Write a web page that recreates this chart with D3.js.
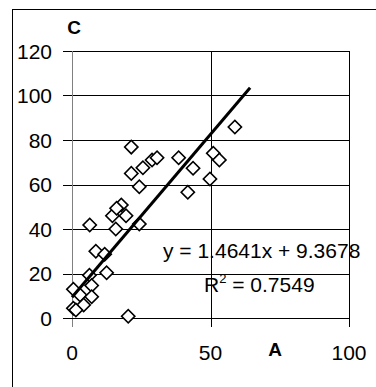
<!DOCTYPE html>
<html>
<head>
<meta charset="utf-8">
<script src="https://cdn.jsdelivr.net/npm/d3@7"></script>
<style>
  body { margin: 0; background: #fff; }
  svg { display: block; font-family: "Liberation Sans", Arial, sans-serif; }
</style>
</head>
<body>
<svg id="chart" width="376" height="387"></svg>
<script>
// values
const aValues = [58.8, 21.4, 28.9, 30.7, 25.6, 21.4, 24.3, 38.5, 43.7, 41.8, 51.0, 53.2, 49.8,
  6.4, 14.6, 17.8, 16.1, 19.5, 15.8, 24.3, 8.6, 11.8, 12.5, 6.3, 7.1, 0.5, 2.9, 7.1, 4.2, 0.5, 1.4, 20.3];
const cValues = [85.8, 76.8, 71.0, 72.0, 67.5, 65.0, 59.0, 72.0, 67.3, 56.5, 74.0, 71.0, 62.5,
  41.8, 46.0, 50.8, 49.3, 46.0, 40.0, 42.2, 30.0, 28.7, 20.3, 19.2, 14.6, 12.9, 10.3, 9.6, 5.8, 4.4, 3.6, 0.8];
const xTicks = [0, 50, 100];
const yTicks = [0, 20, 40, 60, 80, 100, 120];
const slope = 1.4641, intercept = 9.3678;
const trendRange = [0, 64.3];
const eqLabel = "y = 1.4641x + 9.3678";
const r2Value = "0.7549";

const svg = d3.select("#chart");

const x = d3.scaleLinear().domain([0, 100]).range([72, 349]);
const y = d3.scaleLinear().domain([0, 120]).range([318, 51]);

// outer frame (runs past the right and bottom edges)
svg.append("rect")
    .attr("x", 12.5).attr("y", 9.5)
    .attr("width", 420).attr("height", 420)
    .attr("fill", "none").attr("stroke", "#000");

// horizontal grid + y ticks
svg.append("g")
  .selectAll("line")
  .data(yTicks.filter(function (d) { return d > 0 }))
  .join("line")
    .attr("x1", 63).attr("x2", x(100))
    .attr("y1", function (d) { return Math.round(y(d)) + 0.5 })
    .attr("y2", function (d) { return Math.round(y(d)) + 0.5 })
    .attr("stroke", "#000");

// vertical grid + x ticks
svg.append("g")
  .selectAll("line")
  .data(xTicks.filter(function (d) { return d > 0 }))
  .join("line")
    .attr("x1", function (d) { return Math.round(x(d)) + 0.5 })
    .attr("x2", function (d) { return Math.round(x(d)) + 0.5 })
    .attr("y1", y(120)).attr("y2", 327)
    .attr("stroke", "#000");

// axes
svg.append("line")
    .attr("x1", Math.round(x(0)) + 0.5).attr("x2", Math.round(x(0)) + 0.5)
    .attr("y1", y(120)).attr("y2", 327)
    .attr("stroke", "#808080");
svg.append("line")
    .attr("x1", 63).attr("x2", x(100))
    .attr("y1", Math.round(y(0)) + 0.5).attr("y2", Math.round(y(0)) + 0.5)
    .attr("stroke", "#000");

// tick labels
svg.append("g")
    .attr("font-size", 21)
    .attr("text-anchor", "end")
  .selectAll("text")
  .data(yTicks)
  .join("text")
    .attr("x", 52)
    .attr("y", function (d) { return y(d) })
    .attr("dy", "0.36em")
    .text(function (d) { return d });

svg.append("g")
    .attr("font-size", 21)
    .attr("text-anchor", "middle")
  .selectAll("text")
  .data(xTicks)
  .join("text")
    .attr("x", function (d) { return x(d) })
    .attr("y", 360)
    .text(function (d) { return d });

// axis titles
svg.append("text")
    .attr("x", 74).attr("y", 34)
    .attr("text-anchor", "middle")
    .attr("font-size", 19).attr("font-weight", "bold")
    .text("C");
svg.append("text")
    .attr("x", 275).attr("y", 356)
    .attr("text-anchor", "middle")
    .attr("font-size", 19).attr("font-weight", "bold")
    .text("A");

// points
const diamond = d3.symbol().type(d3.symbolSquare).size(88);
svg.append("g")
  .selectAll("path")
  .data(aValues.map(function (a, i) { return [a, cValues[i]] }))
  .join("path")
    .attr("d", diamond)
    .attr("transform", function (d) { return "translate(" + x(d[0]) + "," + y(d[1]) + ") rotate(45)" })
    .attr("fill", "#fff")
    .attr("stroke", "#000")
    .attr("stroke-width", 1.6);

// trendline
svg.append("line")
    .attr("x1", x(trendRange[0])).attr("y1", y(slope * trendRange[0] + intercept))
    .attr("x2", x(trendRange[1])).attr("y2", y(slope * trendRange[1] + intercept))
    .attr("stroke", "#000")
    .attr("stroke-width", 3);

// equation labels
svg.append("text")
    .attr("x", 163).attr("y", 258)
    .attr("font-size", 21)
    .text(eqLabel);

const r2 = svg.append("text")
    .attr("x", 204).attr("y", 292)
    .attr("font-size", 21);
r2.append("tspan").text("R");
r2.append("tspan").attr("font-size", 13).attr("dy", -9).text("2");
r2.append("tspan").attr("dy", 9).text(" = " + r2Value);
</script>
</body>
</html>
